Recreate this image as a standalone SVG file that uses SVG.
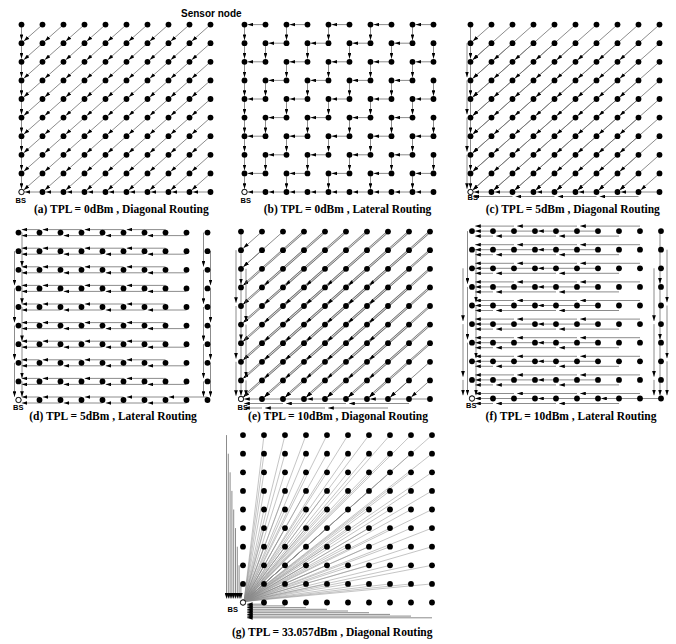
<svg xmlns="http://www.w3.org/2000/svg" xmlns:xlink="http://www.w3.org/1999/xlink" width="676" height="644" viewBox="0 0 676 644">
<style>
.cap{font-family:"Liberation Serif","Times New Roman",serif;font-weight:bold;font-size:11.5px;text-anchor:middle;fill:#000}
.bs{font-family:"Liberation Sans",Arial,sans-serif;font-weight:bold;font-size:7.5px;fill:#000}
.lbl{font-family:"Liberation Sans",Arial,sans-serif;font-weight:bold;font-size:10px;fill:#000}
.bsn{fill:#fff;stroke:#000;stroke-width:0.8}
</style>
<defs>
<marker id="ah" viewBox="0 0 6 4" refX="6" refY="2" markerWidth="5.6" markerHeight="3.8" markerUnits="userSpaceOnUse" orient="auto"><path d="M0,0L6,2L0,4z" fill="#000" stroke="none"/></marker>
<line id="d1" x2="-18.6" y2="16.48"/>
<line id="d2" x2="-39.6" y2="35.08"/>
<line id="d3" x2="-60.6" y2="53.68"/>
<g id="d3b" marker-end="none"><line x2="-56.9" y2="50.36" stroke-width="2.1" stroke="#777"/><line x2="-56.9" y2="50.36" stroke="#fff" stroke-width="0.8"/></g>
<line id="h1" x2="-17.8"/>
<line id="h2" x2="-38.8"/>
<line id="h3" x2="-59.8"/>
<line id="v1" y2="15.4"/>
<line id="v2" y2="34"/>
<line id="v3" y2="52.6"/>
<g id="row"><circle r="2.9"/><circle cx="21" r="2.9"/><circle cx="42" r="2.9"/><circle cx="63" r="2.9"/><circle cx="84" r="2.9"/><circle cx="105" r="2.9"/><circle cx="126" r="2.9"/><circle cx="147" r="2.9"/><circle cx="168" r="2.9"/><circle cx="189" r="2.9"/></g>
<g id="grid"><use href="#row"/><use href="#row" y="-18.6"/><use href="#row" y="-37.2"/><use href="#row" y="-55.8"/><use href="#row" y="-74.4"/><use href="#row" y="-93"/><use href="#row" y="-111.6"/><use href="#row" y="-130.2"/><use href="#row" y="-148.8"/><use href="#row" y="-167.4"/></g>
<g id="aRow"><use href="#d1" x="21"/><use href="#d1" x="42"/><use href="#d1" x="63"/><use href="#d1" x="84"/><use href="#d1" x="105"/><use href="#d1" x="126"/><use href="#d1" x="147"/><use href="#d1" x="168"/><use href="#d1" x="189"/></g>
<g id="aCol"><use href="#v1" y="-18.6"/><use href="#v1" y="-37.2"/><use href="#v1" y="-55.8"/><use href="#v1" y="-74.4"/><use href="#v1" y="-93"/><use href="#v1" y="-111.6"/><use href="#v1" y="-130.2"/><use href="#v1" y="-148.8"/><use href="#v1" y="-167.4"/></g>
<g id="aBot"><use href="#h1" x="21"/><use href="#h1" x="42"/><use href="#h1" x="63"/><use href="#h1" x="84"/><use href="#h1" x="105"/><use href="#h1" x="126"/><use href="#h1" x="147"/><use href="#h1" x="168"/><use href="#h1" x="189"/></g>
<g id="bOdd"><use href="#v1"/><use href="#h1" x="21"/><use href="#v1" x="42"/><use href="#h1" x="63"/><use href="#v1" x="84"/><use href="#h1" x="105"/><use href="#v1" x="126"/><use href="#h1" x="147"/><use href="#v1" x="168"/><use href="#h1" x="189"/></g>
<g id="bEven"><use href="#v1"/><use href="#v1" x="21"/><use href="#h1" x="42"/><use href="#v1" x="63"/><use href="#h1" x="84"/><use href="#v1" x="105"/><use href="#h1" x="126"/><use href="#v1" x="147"/><use href="#h1" x="168"/><use href="#v1" x="189"/></g>
<g id="cRow"><use href="#d1" x="21"/><use href="#d2" x="42"/><use href="#d2" x="63"/><use href="#d2" x="84"/><use href="#d2" x="105"/><use href="#d2" x="126"/><use href="#d2" x="147"/><use href="#d2" x="168"/><use href="#d2" x="189"/></g>
<g id="dRow"><use href="#h1" x="21" y="-3"/><use href="#h2" x="42" y="3"/><use href="#h2" x="63" y="-3"/><use href="#h2" x="84" y="3"/><use href="#h2" x="105" y="-3"/><use href="#h2" x="126" y="3"/><use href="#h2" x="147" y="-3"/><use href="#h2" x="168" y="3"/></g>
<g id="eBody"><use href="#d1" x="21"/><use href="#d2" x="42"/><use href="#d3b" x="63"/><use href="#d3b" x="84"/><use href="#d3b" x="105"/><use href="#d3b" x="126"/><use href="#d3b" x="147"/><use href="#d3b" x="168"/><use href="#d3b" x="189"/></g>
<g id="eArr"><use href="#d3" x="63"/><use href="#d3" x="84"/><use href="#d3" x="105"/><use href="#d3" x="126"/><use href="#d3" x="147"/><use href="#d3" x="168"/><use href="#d3" x="189"/></g>
<g id="fRow"><use href="#h1" x="21" y="5"/><use href="#h2" x="42" y="-5"/><use href="#h3" x="63"/><use href="#h3" x="84" y="5"/><use href="#h3" x="105" y="-5"/><use href="#h3" x="126"/><use href="#h3" x="147" y="5"/><use href="#h3" x="168" y="-5"/></g>
</defs>
<rect width="676" height="644" fill="#fff"/>

<g id="connectors" fill="none" stroke="#6e6e6e" stroke-width="0.8" marker-end="url(#ah)">
<g id="conn-a" transform="translate(21.5,192)">
<use href="#aRow" y="-18.6"/><use href="#aRow" y="-37.2"/><use href="#aRow" y="-55.8"/><use href="#aRow" y="-74.4"/><use href="#aRow" y="-93"/><use href="#aRow" y="-111.6"/><use href="#aRow" y="-130.2"/><use href="#aRow" y="-148.8"/><use href="#aRow" y="-167.4"/>
<use href="#aCol"/><use href="#aBot"/>
</g>
<g id="conn-b" transform="translate(244.5,192)">
<use href="#bOdd" y="-18.6"/><use href="#bEven" y="-37.2"/><use href="#bOdd" y="-55.8"/><use href="#bEven" y="-74.4"/><use href="#bOdd" y="-93"/><use href="#bEven" y="-111.6"/><use href="#bOdd" y="-130.2"/><use href="#bEven" y="-148.8"/><use href="#bOdd" y="-167.4"/>
<use href="#aBot"/>
</g>
<g id="conn-c" transform="translate(470.5,192)">
<use href="#aRow" y="-18.6"/><use href="#cRow" y="-37.2"/><use href="#cRow" y="-55.8"/><use href="#cRow" y="-74.4"/><use href="#cRow" y="-93"/><use href="#cRow" y="-111.6"/><use href="#cRow" y="-130.2"/><use href="#cRow" y="-148.8"/><use href="#cRow" y="-167.4"/>
<use href="#v2" x="-3.5" y="-148.8"/><use href="#v2" x="-3.5" y="-111.6"/><use href="#v2" x="-3.5" y="-74.4"/><use href="#v2" x="-3.5" y="-37.2"/>
<use href="#v2" y="-167.4"/><use href="#v2" y="-130.2"/><use href="#v2" y="-93"/><use href="#v2" y="-55.8"/><use href="#v1" y="-18.6"/>
<use href="#h2" x="168" y="4.5"/><use href="#h2" x="126" y="4.5"/><use href="#h2" x="84" y="4.5"/><use href="#h2" x="42" y="4.5"/>
<use href="#h2" x="189"/><use href="#h2" x="147"/><use href="#h2" x="105"/><use href="#h2" x="63"/><use href="#h1" x="21"/>
</g>
<g id="conn-d" transform="translate(18.5,400)">
<use href="#dRow"/><use href="#dRow" y="-18.6"/><use href="#dRow" y="-37.2"/><use href="#dRow" y="-55.8"/><use href="#dRow" y="-74.4"/><use href="#dRow" y="-93"/><use href="#dRow" y="-111.6"/><use href="#dRow" y="-130.2"/><use href="#dRow" y="-148.8"/><use href="#dRow" y="-167.4"/>
<use href="#h2" x="189" y="-3"/>
<use href="#v2" x="3.5" y="-167.4"/><use href="#v2" x="3.5" y="-130.2"/><use href="#v2" x="3.5" y="-93"/><use href="#v2" x="3.5" y="-55.8"/><use href="#v1" x="3.5" y="-18.6"/>
<use href="#v2" x="-4" y="-148.8"/><use href="#v2" x="-4" y="-111.6"/><use href="#v2" x="-4" y="-74.4"/><use href="#v2" x="-4" y="-37.2"/>
<use href="#v2" x="185" y="-167.4"/><use href="#v2" x="185" y="-130.2"/><use href="#v2" x="185" y="-93"/><use href="#v2" x="185" y="-55.8"/><use href="#v1" x="185" y="-18.6"/>
<use href="#v2" x="192" y="-148.8"/><use href="#v2" x="192" y="-111.6"/><use href="#v2" x="192" y="-74.4"/><use href="#v2" x="192" y="-37.2"/>
</g>
<g id="conn-e" transform="translate(241,399)">
<use href="#aRow" y="-18.6"/><use href="#cRow" y="-37.2"/>
<use href="#eBody" y="-55.8"/><use href="#eBody" y="-74.4"/><use href="#eBody" y="-93"/><use href="#eBody" y="-111.6"/><use href="#eBody" y="-130.2"/><use href="#eBody" y="-148.8"/><use href="#eBody" y="-167.4"/>
<g stroke="none"><use href="#eArr" y="-55.8"/><use href="#eArr" y="-74.4"/><use href="#eArr" y="-93"/><use href="#eArr" y="-111.6"/><use href="#eArr" y="-130.2"/><use href="#eArr" y="-148.8"/><use href="#eArr" y="-167.4"/></g>
<use href="#v3" y="-167.4"/><use href="#v3" y="-111.6"/><use href="#v3" y="-55.8"/>
<use href="#v3" x="-5" y="-148.8"/><use href="#v3" x="-5" y="-93"/><use href="#v2" x="-5" y="-37.2"/>
<use href="#v3" x="5" y="-130.2"/><use href="#v3" x="5" y="-74.4"/><use href="#v1" x="5" y="-18.6"/>
<use href="#h3" x="189"/><use href="#h3" x="126"/><use href="#h3" x="63"/>
<use href="#h3" x="168" y="4.5"/><use href="#h3" x="105" y="4.5"/><use href="#h2" x="42" y="4.5"/>
<use href="#h3" x="147" y="9"/><use href="#h3" x="84" y="9"/><use href="#h1" x="21" y="9"/>
</g>
<g id="conn-f" transform="translate(472,398.5)">
<use href="#fRow"/><use href="#fRow" y="-18.6"/><use href="#fRow" y="-37.2"/><use href="#fRow" y="-55.8"/><use href="#fRow" y="-74.4"/><use href="#fRow" y="-93"/><use href="#fRow" y="-111.6"/><use href="#fRow" y="-130.2"/><use href="#fRow" y="-148.8"/><use href="#fRow" y="-167.4"/>
<use href="#h3" x="189"/>
<use href="#v3" x="-4.5" y="-167.4"/><use href="#v3" x="-4.5" y="-111.6"/><use href="#v3" x="-4.5" y="-55.8"/>
<use href="#v3" x="4" y="-148.8"/><use href="#v3" x="4" y="-93"/><use href="#v2" x="4" y="-37.2"/>
<use href="#v3" x="-9" y="-130.2"/><use href="#v3" x="-9" y="-74.4"/><use href="#v1" x="-9" y="-18.6"/>
<use href="#v3" x="188" y="-167.4"/><use href="#v3" x="188" y="-111.6"/><use href="#v3" x="188" y="-55.8"/>
<use href="#v3" x="195" y="-148.8"/><use href="#v3" x="195" y="-93"/><use href="#v2" x="195" y="-37.2"/>
<use href="#v3" x="182" y="-130.2"/><use href="#v3" x="182" y="-74.4"/><use href="#v1" x="182" y="-18.6"/>
</g>
<g id="conn-g" transform="translate(243,602.5)">
<path marker-end="none" stroke="#8a8a8a" stroke-width="0.5" d="M21,-18.6L1,-1M42,-18.6L1,-1M63,-18.6L1,-1M84,-18.6L1,-1M105,-18.6L1,-1M126,-18.6L1,-1M147,-18.6L1,-1M168,-18.6L1,-1M189,-18.6L1,-1M21,-37.2L1,-1M42,-37.2L1,-1M63,-37.2L1,-1M84,-37.2L1,-1M105,-37.2L1,-1M126,-37.2L1,-1M147,-37.2L1,-1M168,-37.2L1,-1M189,-37.2L1,-1M21,-55.8L1,-1M42,-55.8L1,-1M63,-55.8L1,-1M84,-55.8L1,-1M105,-55.8L1,-1M126,-55.8L1,-1M147,-55.8L1,-1M168,-55.8L1,-1M189,-55.8L1,-1M21,-74.4L1,-1M42,-74.4L1,-1M63,-74.4L1,-1M84,-74.4L1,-1M105,-74.4L1,-1M126,-74.4L1,-1M147,-74.4L1,-1M168,-74.4L1,-1M189,-74.4L1,-1M21,-93L1,-1M42,-93L1,-1M63,-93L1,-1M84,-93L1,-1M105,-93L1,-1M126,-93L1,-1M147,-93L1,-1M168,-93L1,-1M189,-93L1,-1M21,-111.6L1,-1M42,-111.6L1,-1M63,-111.6L1,-1M84,-111.6L1,-1M105,-111.6L1,-1M126,-111.6L1,-1M147,-111.6L1,-1M168,-111.6L1,-1M189,-111.6L1,-1M21,-130.2L1,-1M42,-130.2L1,-1M63,-130.2L1,-1M84,-130.2L1,-1M105,-130.2L1,-1M126,-130.2L1,-1M147,-130.2L1,-1M168,-130.2L1,-1M189,-130.2L1,-1M21,-148.8L1,-1M42,-148.8L1,-1M63,-148.8L1,-1M84,-148.8L1,-1M105,-148.8L1,-1M126,-148.8L1,-1M147,-148.8L1,-1M168,-148.8L1,-1M189,-148.8L1,-1M21,-167.4L1,-1M42,-167.4L1,-1M63,-167.4L1,-1M84,-167.4L1,-1M105,-167.4L1,-1M126,-167.4L1,-1M147,-167.4L1,-1M168,-167.4L1,-1M189,-167.4L1,-1"/>
<line x1="-2.1" y1="-18.6" x2="-2.1" y2="-4"/><line x1="-3.9" y1="-37.2" x2="-3.9" y2="-4"/><line x1="-5.7" y1="-55.8" x2="-5.7" y2="-4"/><line x1="-7.5" y1="-74.4" x2="-7.5" y2="-4"/><line x1="-9.3" y1="-93" x2="-9.3" y2="-4"/><line x1="-11.1" y1="-111.6" x2="-11.1" y2="-4"/><line x1="-12.9" y1="-130.2" x2="-12.9" y2="-4"/><line x1="-14.7" y1="-148.8" x2="-14.7" y2="-4"/><line x1="-16.5" y1="-167.4" x2="-16.5" y2="-4"/>
<line x1="21" y1="1.7" x2="4" y2="1.7"/><line x1="42" y1="3.4" x2="4" y2="3.4"/><line x1="63" y1="5.1" x2="4" y2="5.1"/><line x1="84" y1="6.8" x2="4" y2="6.8"/><line x1="105" y1="8.5" x2="4" y2="8.5"/><line x1="126" y1="10.2" x2="4" y2="10.2"/><line x1="147" y1="11.9" x2="4" y2="11.9"/><line x1="168" y1="13.6" x2="4" y2="13.6"/><line x1="189" y1="15.3" x2="4" y2="15.3"/>
</g>
</g>

<g id="nodes-a" transform="translate(21.5,192)"><use href="#grid"/><circle id="bs-a" class="bsn" r="2.6"/></g>
<g id="nodes-b" transform="translate(244.5,192)"><use href="#grid"/><circle id="bs-b" class="bsn" r="2.6"/></g>
<g id="nodes-c" transform="translate(470.5,192)"><use href="#grid"/><circle id="bs-c" class="bsn" r="2.6"/></g>
<g id="nodes-d" transform="translate(18.5,400)"><use href="#grid"/><circle id="bs-d" class="bsn" r="2.6"/></g>
<g id="nodes-e" transform="translate(241,399)"><use href="#grid"/><circle id="bs-e" class="bsn" r="2.6"/></g>
<g id="nodes-f" transform="translate(472,398.5)"><use href="#grid"/><circle id="bs-f" class="bsn" r="2.6"/></g>
<g id="nodes-g" transform="translate(243,602.5)"><use href="#grid"/><circle id="bs-g" class="bsn" r="2.6"/></g>

<g id="labels">
<text class="lbl" x="181" y="17">Sensor node</text>
<text class="bs" x="15.5" y="203">BS</text>
<text class="bs" x="240.5" y="203">BS</text>
<text class="bs" x="467.5" y="199.5">BS</text>
<text class="bs" x="13" y="410">BS</text>
<text class="bs" x="237.5" y="410">BS</text>
<text class="bs" x="466" y="407.5">BS</text>
<text class="bs" x="227.5" y="611.5">BS</text>
<text class="cap" x="121.3" y="212.5">(a) TPL = 0dBm , Diagonal Routing</text>
<text class="cap" x="347.5" y="212.5">(b) TPL = 0dBm , Lateral Routing</text>
<text class="cap" x="572.8" y="212.5">(c) TPL = 5dBm , Diagonal Routing</text>
<text class="cap" x="113" y="419.5">(d) TPL = 5dBm , Lateral Routing</text>
<text class="cap" x="338" y="419.5">(e) TPL = 10dBm , Diagonal Routing</text>
<text class="cap" x="571" y="420">(f) TPL = 10dBm , Lateral Routing</text>
<text class="cap" x="332.2" y="636">(g) TPL = 33.057dBm , Diagonal Routing</text>
</g>
</svg>
